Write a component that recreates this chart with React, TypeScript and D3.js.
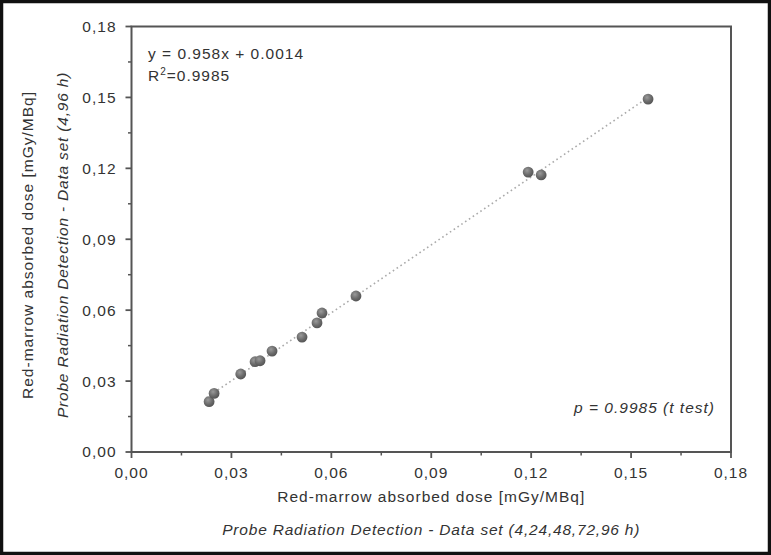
import React from "react";
import * as d3 from "d3";

// values (mGy/MBq)
const xValues = [0.0233, 0.0248, 0.0328, 0.0371, 0.0386, 0.0422, 0.0512, 0.0557, 0.0572, 0.0674, 0.1191, 0.123, 0.1551];
const yValues = [0.0213, 0.0248, 0.033, 0.0382, 0.0386, 0.0427, 0.0486, 0.0546, 0.0588, 0.066, 0.1184, 0.1172, 0.1493];
const tickValues = [0, 0.03, 0.06, 0.09, 0.12, 0.15, 0.18];
const minorTicks = [0.015, 0.045, 0.075, 0.105, 0.135, 0.165];
const slope = 0.958;
const intercept = 0.0014;
const fitRange = [0.0225, 0.155];

const W = 771;
const H = 555;
const left = 131.5;
const right = 731;
const top = 26.5;
const bottom = 452;
const font = "'Liberation Sans', Arial, sans-serif";
const axisColor = "#555";
const textColor = "#333";
const fs = 15.5;
const ls = 1;

const fmt = (v: number) => v.toFixed(2).replace(".", ",");

export default function App() {
  const x = d3.scaleLinear().domain([0, 0.18]).range([left, right]);
  const y = d3.scaleLinear().domain([0, 0.18]).range([bottom, top]);
  const points = xValues.map((v, i) => ({ x: v, y: yValues[i] }));
  const fitLine = d3
    .line<number>()
    .x((d) => x(d))
    .y((d) => y(slope * d + intercept));
  const midY = 245;

  return (
    <svg
      width={W}
      height={H}
      style={{ position: "fixed", left: 0, top: 0, background: "#fff" }}
      fontFamily={font}
      letterSpacing={ls}
    >
      <defs>
        <radialGradient id="ball" cx="40%" cy="35%" r="65%">
          <stop offset="0%" stopColor="#9a9a9a" />
          <stop offset="60%" stopColor="#6c6c6c" />
          <stop offset="100%" stopColor="#555" />
        </radialGradient>
      </defs>
      <rect x={1.5} y={1.5} width={W - 3} height={H - 3} fill="#fff" stroke="#111" strokeWidth={3.5} />

      {/* plot frame */}
      <rect x={left} y={top} width={right - left} height={bottom - top} fill="none" stroke={axisColor} strokeWidth={2} />

      {/* y axis ticks */}
      {tickValues.map((t) => (
        <g key={"y" + t}>
          <line x1={left - 6} x2={left} y1={y(t)} y2={y(t)} stroke={axisColor} strokeWidth={1.8} />
          <text x={left - 15} y={y(t)} dy="0.35em" textAnchor="end" fontSize={fs} fill={textColor}>
            {fmt(t)}
          </text>
        </g>
      ))}
      {minorTicks.map((t) => (
        <line key={"ym" + t} x1={left - 3.5} x2={left} y1={y(t)} y2={y(t)} stroke={axisColor} strokeWidth={1.5} />
      ))}

      {/* x axis ticks */}
      {tickValues.map((t) => (
        <g key={"x" + t}>
          <line x1={x(t)} x2={x(t)} y1={bottom} y2={bottom + 6} stroke={axisColor} strokeWidth={1.8} />
          <text x={x(t)} y={bottom + 21} dy="0.35em" textAnchor="middle" fontSize={fs} fill={textColor}>
            {fmt(t)}
          </text>
        </g>
      ))}
      {minorTicks.map((t) => (
        <line key={"xm" + t} x1={x(t)} x2={x(t)} y1={bottom} y2={bottom + 3.5} stroke={axisColor} strokeWidth={1.5} />
      ))}

      {/* fit line */}
      <path
        d={fitLine(fitRange) || ""}
        fill="none"
        stroke="#aaa"
        strokeWidth={1.6}
        strokeDasharray="1.6 3"
      />

      {points.map((p, i) => (
        <circle key={i} cx={x(p.x)} cy={y(p.y)} r={5.4} fill="url(#ball)" />
      ))}

      {/* annotations */}
      <text x={148} y={54} dy="0.35em" fontSize={fs} fill={textColor}>
        y = 0.958x + 0.0014
      </text>
      <text x={148} y={76} dy="0.35em" fontSize={fs} fill={textColor}>
        R<tspan dy="-6" fontSize={10}>2</tspan>
        <tspan dy="6">=0.9985</tspan>
      </text>
      <text x={715} y={408} dy="0.35em" textAnchor="end" fontSize={fs} fontStyle="italic" fill={textColor}>
        p = 0.9985 (t test)
      </text>

      {/* axis titles */}
      <text x={(left + right) / 2} y={497} dy="0.35em" textAnchor="middle" fontSize={fs} fill={textColor}>
        Red-marrow absorbed dose [mGy/MBq]
      </text>
      <text
        x={(left + right) / 2}
        y={530}
        dy="0.35em"
        textAnchor="middle"
        fontSize={fs}
        fontStyle="italic"
        fill={textColor}
        letterSpacing={0.8}
      >
        Probe Radiation Detection - Data set (4,24,48,72,96 h)
      </text>
      <text
        transform={`translate(28,${midY}) rotate(-90)`}
        dy="0.35em"
        textAnchor="middle"
        fontSize={fs}
        fill={textColor}
      >
        Red-marrow absorbed dose [mGy/MBq]
      </text>
      <text
        transform={`translate(63,${midY}) rotate(-90)`}
        dy="0.35em"
        textAnchor="middle"
        fontSize={fs}
        fontStyle="italic"
        fill={textColor}
        letterSpacing={0.8}
      >
        Probe Radiation Detection - Data set (4,96 h)
      </text>
    </svg>
  );
}
